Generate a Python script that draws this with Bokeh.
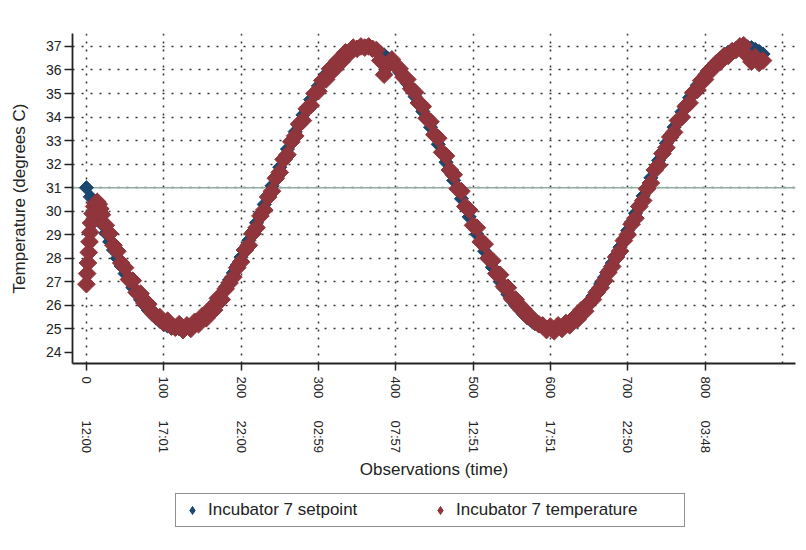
import math
from bokeh.plotting import figure
from bokeh.layouts import column
from bokeh.models import (Range1d, LinearAxis, FixedTicker, Span, Legend,
                          LegendItem, Grid, ColumnDataSource)
from bokeh.embed import file_html
from bokeh.resources import INLINE

# ---------------- data ----------------
setpoint_obs = list(range(0, 880, 5))
setpoint = [
    31.00, 30.61, 30.22, 29.83, 29.45, 29.07, 28.70, 28.35, 28.00, 27.67,
    27.35, 27.05, 26.76, 26.49, 26.24, 26.01, 25.80, 25.62, 25.46, 25.32,
    25.20, 25.12, 25.05, 25.01, 25.00, 25.01, 25.05, 25.12, 25.21, 25.33,
    25.47, 25.63, 25.82, 26.03, 26.26, 26.51, 26.79, 27.08, 27.38, 27.71,
    28.05, 28.40, 28.76, 29.13, 29.51, 29.90, 30.29, 30.68, 31.08, 31.47,
    31.87, 32.26, 32.64, 33.01, 33.38, 33.74, 34.09, 34.42, 34.74, 35.04,
    35.32, 35.59, 35.84, 36.06, 36.26, 36.44, 36.59, 36.72, 36.83, 36.91,
    36.97, 36.99, 37.00, 36.98, 36.93, 36.86, 36.76, 36.64, 36.49, 36.32,
    36.13, 35.91, 35.68, 35.43, 35.16, 34.87, 34.56, 34.24, 33.91, 33.57,
    33.21, 32.84, 32.46, 32.08, 31.70, 31.31, 30.93, 30.53, 30.14, 29.76,
    29.39, 29.02, 28.65, 28.30, 27.95, 27.62, 27.31, 27.01, 26.73, 26.47,
    26.22, 26.01, 25.82, 25.64, 25.48, 25.35, 25.23, 25.13, 25.05, 25.01,
    25.00, 25.01, 25.05, 25.11, 25.19, 25.30, 25.43, 25.58, 25.75, 25.94,
    26.15, 26.39, 26.64, 26.91, 27.19, 27.49, 27.80, 28.13, 28.47, 28.82,
    29.18, 29.54, 29.91, 30.28, 30.65, 31.03, 31.42, 31.79, 32.16, 32.53,
    32.89, 33.23, 33.57, 33.90, 34.22, 34.52, 34.82, 35.09, 35.35, 35.59,
    35.81, 36.01, 36.19, 36.36, 36.51, 36.64, 36.76, 36.84, 36.91, 36.97,
    37.00, 36.98, 36.95, 36.88, 36.79, 36.68,
]

temp_obs_start = [0, 1, 2, 3, 4, 5, 6, 8, 10, 12, 14, 16, 18]
temp_start = [26.90, 27.35, 27.80, 28.25, 28.70, 29.10, 29.50, 29.90,
              30.20, 30.35, 30.40, 30.30, 30.10]
temp_obs_rest = list(range(20, 880, 5))
temp_rest = [
    29.85, 29.40, 29.05, 28.55, 28.30, 27.80, 27.60, 27.10, 27.05, 26.55,
    26.50, 26.10, 26.05, 25.70, 25.55, 25.50, 25.25, 25.35, 25.10, 25.05,
    25.20, 24.95, 25.15, 25.00, 25.30, 25.20, 25.55, 25.45, 25.85, 25.80,
    26.30, 26.25, 26.70, 26.95, 27.20, 27.60, 27.85, 28.35, 28.55, 29.05,
    29.30, 29.80, 30.05, 30.60, 30.85, 31.40, 31.65, 32.20, 32.40, 32.95,
    33.20, 33.70, 33.85, 34.35, 34.50, 35.00, 35.10, 35.55, 35.60, 36.05,
    36.00, 36.40, 36.35, 36.75, 36.70, 36.95, 36.90, 37.00, 36.95, 37.00,
    36.90, 36.85, 36.40, 35.80, 36.20, 36.45, 36.20, 36.05, 35.70, 35.60,
    35.20, 35.05, 34.60, 34.45, 33.95, 33.80, 33.25, 33.10, 32.50, 32.35,
    31.75, 31.55, 30.95, 30.85, 30.20, 30.05, 29.40, 29.30, 28.70, 28.60,
    28.00, 27.90, 27.35, 27.30, 26.80, 26.75, 26.30, 26.25, 25.90, 25.85,
    25.55, 25.50, 25.30, 25.20, 25.15, 24.95, 25.10, 24.90, 25.15, 25.00,
    25.25, 25.15, 25.45, 25.40, 25.80, 25.75, 26.10, 26.25, 26.55, 26.75,
    27.05, 27.40, 27.65, 28.05, 28.30, 28.75, 29.00, 29.45, 29.70, 30.20,
    30.45, 30.95, 31.20, 31.75, 31.95, 32.45, 32.70, 33.15, 33.35, 33.85,
    34.00, 34.45, 34.60, 35.05, 35.15, 35.55, 35.60, 35.95, 36.05, 36.30,
    36.35, 36.60, 36.60, 36.80, 36.85, 37.00, 37.05, 36.60, 36.35, 36.55,
    36.30, 36.40,
]
temp_obs = temp_obs_start + temp_obs_rest
temperature = temp_start + temp_rest

x_ticks = [0, 100, 200, 300, 400, 500, 600, 700, 800]
x_grid_ticks = [0, 100, 200, 300, 400, 500, 600, 700, 800, 900]
time_labels = ["12:00", "17:01", "22:00", "02:59", "07:57",
               "12:51", "17:51", "22:50", "03:48"]
y_ticks = [24, 25, 26, 27, 28, 29, 30, 31, 32, 33, 34, 35, 36, 37]
y_grid_ticks = [25, 26, 27, 28, 29, 30, 31, 32, 33, 34, 35, 36, 37]
reference_value = 31
legend_labels = ["Incubator 7 setpoint", "Incubator 7 temperature"]

NAVY = "#1a476f"
MAROON = "#90353b"
FONT = "Liberation Sans"
INK = "#222222"

# ---------------- main figure ----------------
p = figure(frame_width=723, frame_height=330, output_backend="svg",
           toolbar_location=None,
           x_range=Range1d(-18, 917), y_range=Range1d(23.53, 37.55),
           x_axis_type=None, y_axis_type=None,
           min_border_left=72, min_border_right=3, min_border_top=33,
           min_border_bottom=130)
p.outline_line_color = None
p.background_fill_color = "white"
p.border_fill_color = "white"

xg = Grid(dimension=0, ticker=FixedTicker(ticks=x_grid_ticks),
          grid_line_color="#333333", grid_line_width=1.5, grid_line_dash="2 6")
yg = Grid(dimension=1, ticker=FixedTicker(ticks=y_grid_ticks),
          grid_line_color="#333333", grid_line_width=1.5, grid_line_dash="2 7")
p.add_layout(xg)
p.add_layout(yg)

p.add_layout(Span(location=reference_value, dimension="width",
                  line_color="#8fae9f", line_width=1.5, level="underlay"))

yax = LinearAxis(ticker=FixedTicker(ticks=y_ticks),
                 axis_label="Temperature (degrees C)",
                 axis_label_text_font=FONT, axis_label_text_font_size="17px",
                 axis_label_text_font_style="normal",
                 axis_label_text_color=INK,
                 axis_label_standoff=14,
                 major_label_text_font=FONT, major_label_text_font_size="14px",
                 major_label_text_color=INK,
                 major_label_standoff=3,
                 axis_line_color=INK, axis_line_width=1.8,
                 major_tick_line_color=INK, major_tick_line_width=1.5,
                 major_tick_out=8, major_tick_in=0,
                 minor_tick_line_color=None)
p.add_layout(yax, "left")

xax = LinearAxis(ticker=FixedTicker(ticks=x_ticks),
                 major_label_orientation="vertical",
                 major_label_text_font=FONT, major_label_text_font_size="13px",
                 major_label_text_color=INK,
                 major_label_standoff=6,
                 axis_line_color=INK, axis_line_width=1.8,
                 major_tick_line_color=INK, major_tick_line_width=1.5,
                 major_tick_out=7, major_tick_in=0,
                 minor_tick_line_color=None)
p.add_layout(xax, "below")

tax = LinearAxis(ticker=FixedTicker(ticks=x_ticks),
                 major_label_overrides={t: s for t, s in zip(x_ticks, time_labels)},
                 major_label_orientation="vertical",
                 major_label_text_font=FONT, major_label_text_font_size="13px",
                 major_label_text_color=INK,
                 major_label_standoff=19,
                 axis_label="Observations (time)",
                 axis_label_text_font=FONT, axis_label_text_font_size="17px",
                 axis_label_text_font_style="normal",
                 axis_label_text_color=INK,
                 axis_label_standoff=4,
                 axis_line_color=None,
                 major_tick_line_color=None, major_tick_out=0, major_tick_in=0,
                 minor_tick_line_color=None)
p.add_layout(tax, "below")

src_set = ColumnDataSource(dict(x=setpoint_obs, y=setpoint))
src_tmp = ColumnDataSource(dict(x=temp_obs, y=temperature))
set_style = dict(marker="square", angle=math.pi / 4, fill_color=NAVY, line_color=NAVY)
tmp_style = dict(marker="square", angle=math.pi / 4, fill_color=MAROON, line_color=MAROON)
p.scatter("x", "y", source=src_set, size=10, **set_style)
p.scatter("x", "y", source=src_tmp, size=12.5, **tmp_style)

# ---------------- legend strip ----------------
lg = figure(width=798, height=50, output_backend="svg", toolbar_location=None,
            x_range=Range1d(0, 1), y_range=Range1d(0, 1),
            x_axis_type=None, y_axis_type=None,
            min_border_left=0, min_border_right=0, min_border_top=0,
            min_border_bottom=0)
lg.outline_line_color = None
lg.grid.visible = False
lg.background_fill_color = "white"
lg.border_fill_color = "white"
nothing = dict(x=[float("nan")], y=[float("nan")])
l_set = lg.scatter("x", "y", source=ColumnDataSource(nothing), size=8,
                   marker="diamond", fill_color=NAVY, line_color=NAVY)
l_tmp = lg.scatter("x", "y", source=ColumnDataSource(dict(nothing)), size=8,
                   marker="diamond", fill_color=MAROON, line_color=MAROON)

legend = Legend(items=[LegendItem(label=legend_labels[0], renderers=[l_set]),
                       LegendItem(label=legend_labels[1], renderers=[l_tmp])],
                orientation="horizontal", location=(103, 16),
                label_text_font=FONT, label_text_font_size="17px",
                label_text_color=INK,
                glyph_width=20, glyph_height=20, label_standoff=6,
                label_width=222, label_height=20, spacing=0, padding=6,
                margin=0,
                border_line_color=INK, border_line_width=1.5,
                background_fill_color="white", background_fill_alpha=1.0)
lg.add_layout(legend, "center")

layout = column(p, lg, spacing=0)
open("out.html", "w").write(file_html(layout, INLINE))
